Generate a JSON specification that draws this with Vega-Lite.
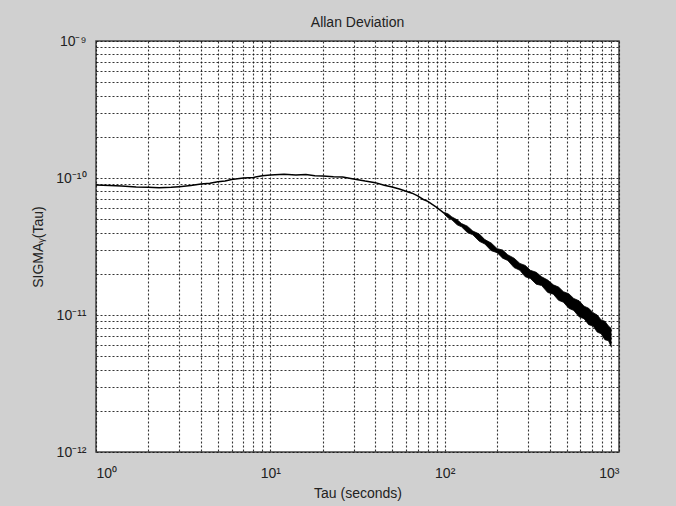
{
  "$schema": "https://vega.github.io/schema/vega-lite/v6.json",
  "width": 523,
  "height": 411,
  "autosize": {"type": "none"},
  "padding": {"left": 96, "top": 41, "right": 57, "bottom": 54},
  "background": "#d0d0d0",
  "title": {
    "text": "Allan Deviation",
    "font": "Liberation Sans",
    "fontSize": 14,
    "fontWeight": "normal",
    "color": "#222",
    "offset": 4
  },
  "config": {
    "view": {"fill": "white", "stroke": "#444", "strokeWidth": 1.5},
    "axis": {
      "labelFont": "Liberation Sans",
      "labelFontSize": 14,
      "labelColor": "#222",
      "titleFont": "Liberation Sans",
      "titleFontSize": 14,
      "titleFontWeight": "normal",
      "titleColor": "#222",
      "domain": false,
      "ticks": false,
      "grid": true,
      "gridColor": "#111",
      "gridDash": [2, 2],
      "gridOpacity": 0.85,
      "gridWidth": 1.1
    }
  },
  "datasets": {
    "curve": [
      {"tau": 1, "sigma": 8.9e-11},
      {"tau": 1.2, "sigma": 8.8e-11},
      {"tau": 1.4, "sigma": 8.75e-11},
      {"tau": 1.7, "sigma": 8.6e-11},
      {"tau": 2, "sigma": 8.55e-11},
      {"tau": 2.3, "sigma": 8.5e-11},
      {"tau": 2.7, "sigma": 8.55e-11},
      {"tau": 3, "sigma": 8.65e-11},
      {"tau": 3.5, "sigma": 8.8e-11},
      {"tau": 4, "sigma": 9.05e-11},
      {"tau": 4.5, "sigma": 9.15e-11},
      {"tau": 5, "sigma": 9.4e-11},
      {"tau": 5.5, "sigma": 9.5e-11},
      {"tau": 6, "sigma": 9.75e-11},
      {"tau": 7, "sigma": 1.0e-10},
      {"tau": 8, "sigma": 1.01e-10},
      {"tau": 9, "sigma": 1.04e-10},
      {"tau": 10, "sigma": 1.05e-10},
      {"tau": 12, "sigma": 1.065e-10},
      {"tau": 14, "sigma": 1.05e-10},
      {"tau": 16, "sigma": 1.06e-10},
      {"tau": 18, "sigma": 1.04e-10},
      {"tau": 20, "sigma": 1.035e-10},
      {"tau": 23, "sigma": 1.02e-10},
      {"tau": 26, "sigma": 1.015e-10},
      {"tau": 30, "sigma": 9.85e-11},
      {"tau": 35, "sigma": 9.5e-11},
      {"tau": 40, "sigma": 9.25e-11},
      {"tau": 45, "sigma": 8.85e-11},
      {"tau": 50, "sigma": 8.6e-11},
      {"tau": 55, "sigma": 8.3e-11},
      {"tau": 60, "sigma": 8.0e-11},
      {"tau": 65, "sigma": 7.75e-11},
      {"tau": 70, "sigma": 7.4e-11},
      {"tau": 75, "sigma": 7.0e-11},
      {"tau": 80, "sigma": 6.75e-11},
      {"tau": 90, "sigma": 6.1e-11},
      {"tau": 100, "sigma": 5.5e-11}
    ],
    "band": [
      {"tau": 100, "lo": 5.4e-11, "hi": 5.6e-11},
      {"tau": 105, "lo": 5.1e-11, "hi": 5.45e-11},
      {"tau": 110, "lo": 4.95e-11, "hi": 5.2e-11},
      {"tau": 118, "lo": 4.55e-11, "hi": 4.95e-11},
      {"tau": 125, "lo": 4.4e-11, "hi": 4.65e-11},
      {"tau": 135, "lo": 4.0e-11, "hi": 4.45e-11},
      {"tau": 145, "lo": 3.85e-11, "hi": 4.1e-11},
      {"tau": 158, "lo": 3.45e-11, "hi": 3.9e-11},
      {"tau": 170, "lo": 3.3e-11, "hi": 3.55e-11},
      {"tau": 185, "lo": 2.95e-11, "hi": 3.35e-11},
      {"tau": 200, "lo": 2.85e-11, "hi": 3.05e-11},
      {"tau": 215, "lo": 2.6e-11, "hi": 2.98e-11},
      {"tau": 230, "lo": 2.5e-11, "hi": 2.75e-11},
      {"tau": 250, "lo": 2.22e-11, "hi": 2.6e-11},
      {"tau": 270, "lo": 2.12e-11, "hi": 2.38e-11},
      {"tau": 290, "lo": 1.9e-11, "hi": 2.3e-11},
      {"tau": 310, "lo": 1.85e-11, "hi": 2.12e-11},
      {"tau": 335, "lo": 1.68e-11, "hi": 2.05e-11},
      {"tau": 360, "lo": 1.64e-11, "hi": 1.9e-11},
      {"tau": 390, "lo": 1.46e-11, "hi": 1.8e-11},
      {"tau": 420, "lo": 1.42e-11, "hi": 1.66e-11},
      {"tau": 450, "lo": 1.28e-11, "hi": 1.6e-11},
      {"tau": 480, "lo": 1.24e-11, "hi": 1.48e-11},
      {"tau": 515, "lo": 1.12e-11, "hi": 1.43e-11},
      {"tau": 550, "lo": 1.08e-11, "hi": 1.32e-11},
      {"tau": 590, "lo": 9.7e-12, "hi": 1.27e-11},
      {"tau": 630, "lo": 9.4e-12, "hi": 1.16e-11},
      {"tau": 670, "lo": 8.5e-12, "hi": 1.12e-11},
      {"tau": 710, "lo": 8.3e-12, "hi": 1.04e-11},
      {"tau": 750, "lo": 7.5e-12, "hi": 1.0e-11},
      {"tau": 790, "lo": 7.3e-12, "hi": 9.2e-12},
      {"tau": 830, "lo": 6.6e-12, "hi": 9.0e-12},
      {"tau": 870, "lo": 6.5e-12, "hi": 8.3e-12},
      {"tau": 900, "lo": 5.9e-12, "hi": 8.0e-12}
    ]
  },
  "layer": [
    {
      "data": {"name": "band"},
      "mark": {"type": "area", "color": "black", "opacity": 1, "stroke": "black", "strokeWidth": 0.8},
      "encoding": {
        "x": {"field": "tau", "type": "quantitative", "scale": {"type": "log", "domain": [1, 1000], "nice": false}},
        "y": {"field": "lo", "type": "quantitative", "scale": {"type": "log", "domain": [1e-12, 1e-9], "nice": false}},
        "y2": {"field": "hi"}
      }
    },
    {
      "data": {"name": "curve"},
      "mark": {"type": "line", "color": "black", "strokeWidth": 1.5},
      "encoding": {
        "x": {
          "field": "tau",
          "type": "quantitative",
          "scale": {"type": "log", "domain": [1, 1000], "nice": false},
          "axis": {
            "title": "Tau (seconds)",
            "titlePadding": 6,
            "labelPadding": 14,
            "values": [1,2,3,4,5,6,7,8,9,10,20,30,40,50,60,70,80,90,100,200,300,400,500,600,700,800,900,1000],
            "labelExpr": "datum.value == 1 ? '10⁰' : datum.value == 10 ? '10¹' : datum.value == 100 ? '10²' : datum.value == 1000 ? '10³' : ''"
          }
        },
        "y": {
          "field": "sigma",
          "type": "quantitative",
          "scale": {"type": "log", "domain": [1e-12, 1e-9], "nice": false},
          "axis": {
            "title": "SIGMAᵧ(Tau)",
            "titlePadding": 10,
            "labelPadding": 10,
            "values": [1e-12,2e-12,3e-12,4e-12,5e-12,6e-12,7e-12,8e-12,9e-12,1e-11,2e-11,3e-11,4e-11,5e-11,6e-11,7e-11,8e-11,9e-11,1e-10,2e-10,3e-10,4e-10,5e-10,6e-10,7e-10,8e-10,9e-10,1e-9],
            "labelExpr": "datum.value == 1e-12 ? '10⁻¹²' : datum.value == 1e-11 ? '10⁻¹¹' : datum.value == 1e-10 ? '10⁻¹⁰' : datum.value == 1e-9 ? '10⁻⁹' : ''"
          }
        }
      }
    }
  ]
}
